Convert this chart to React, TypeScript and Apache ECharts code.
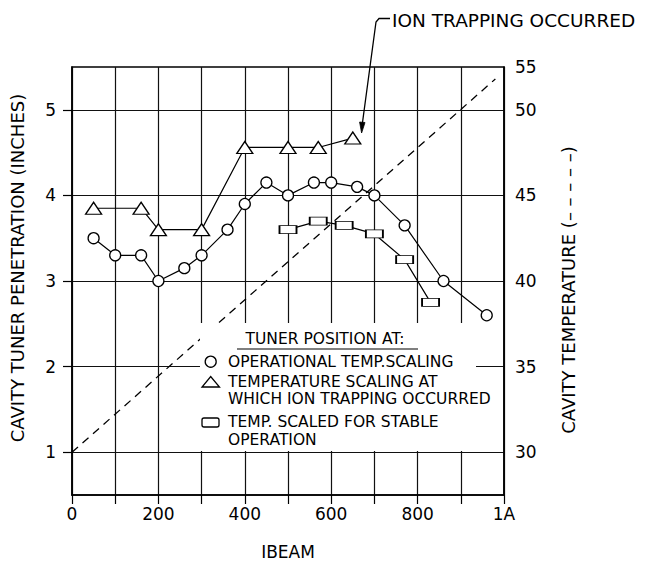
import React, { useEffect, useRef } from "react";
import * as echarts from "echarts";

const FONT = "DejaVu Sans";

// IBEAM (mA) values
const circleX = [50, 100, 160, 200, 260, 300, 360, 400, 450, 500, 560, 600, 660, 700, 770, 860, 960];
const circleY = [3.5, 3.3, 3.3, 3.0, 3.15, 3.3, 3.6, 3.9, 4.15, 4.0, 4.15, 4.15, 4.1, 4.0, 3.65, 3.0, 2.6];

const triX = [50, 160, 200, 300, 400, 500, 570, 650];
const triY = [3.85, 3.85, 3.6, 3.6, 4.56, 4.56, 4.56, 4.67];

const rectX = [500, 570, 630, 700, 770, 830];
const rectY = [3.6, 3.7, 3.65, 3.55, 3.25, 2.75];

const tempX = [0, 980];
const tempY = [30, 51.8];

const leftTicks = [1, 2, 3, 4, 5];
const rightTicks = [30, 35, 40, 45, 50, 52.5];
const xLabelValues = [0, 200, 400, 600, 800, 1000];

const legendTitle = "TUNER POSITION AT:";
const legendItems = [
  ["OPERATIONAL TEMP.SCALING"],
  ["TEMPERATURE SCALING AT", "WHICH ION TRAPPING OCCURRED"],
  ["TEMP. SCALED FOR STABLE", "OPERATION"],
];

const zip = (xs: number[], ys: number[]) => xs.map((x, i) => [x, ys[i]]);

export default function App() {
  const ref = useRef<HTMLDivElement>(null);
  useEffect(() => {
    const chart = echarts.init(ref.current!, null, { renderer: "svg" });
    const black = "#000";
    const txt = (text: string, x: number, y: number, size: number, extra: any = {}) => ({
      type: "text",
      x,
      y,
      z: 20,
      ...extra,
      style: {
        text,
        fill: black,
        fontSize: size,
        fontFamily: FONT,
        align: "left",
        verticalAlign: "middle",
        ...(extra.style || {}),
      },
    });
    chart.setOption({
      animation: false,
      backgroundColor: "#fff",
      grid: {
        left: 72,
        right: 143,
        top: 67,
        bottom: 69,
        show: true,
        borderColor: black,
        borderWidth: 1.5,
        backgroundColor: "transparent",
      },
      xAxis: {
        type: "value",
        min: 0,
        max: 1000,
        interval: 100,
        name: "IBEAM",
        nameLocation: "middle",
        nameGap: 48,
        nameTextStyle: { fontFamily: FONT, fontSize: 17, color: black },
        axisLine: { show: true, lineStyle: { color: black, width: 1.5 } },
        axisTick: { show: true, inside: false, length: 9, lineStyle: { color: black, width: 1.2 } },
        axisLabel: {
          margin: 10,
          fontFamily: FONT,
          fontSize: 17,
          color: black,
          formatter: (v: number) =>
            xLabelValues.includes(v) ? (v === 1000 ? "1A" : String(v)) : "",
        },
        splitLine: { show: true, lineStyle: { color: "#111", width: 1.2 } },
      },
      yAxis: [
        {
          type: "value",
          min: 0.5,
          max: 5.5,
          splitNumber: 5,
          axisLine: { show: true, lineStyle: { color: black, width: 1.5 } },
          axisTick: {
            show: true,
            inside: false,
            length: 9,
            customValues: leftTicks,
            lineStyle: { color: black, width: 1.2 },
          },
          axisLabel: {
            margin: 16,
            fontFamily: FONT,
            fontSize: 17,
            color: black,
            customValues: leftTicks,
            formatter: (v: number) => (leftTicks.includes(v) ? String(v) : ""),
          },
          splitLine: { show: true, lineStyle: { color: "#111", width: 1.2 } },
        },
        {
          type: "value",
          min: 27.5,
          max: 52.5,
          position: "right",
          splitNumber: 5,
          axisLine: { show: true, lineStyle: { color: black, width: 1.5 } },
          axisTick: { show: false },
          axisLabel: {
            margin: 11,
            fontFamily: FONT,
            fontSize: 17,
            color: black,
            customValues: rightTicks,
            formatter: (v: number) =>
              v === 52.5 ? "55" : rightTicks.includes(v) ? String(v) : "",
          },
          splitLine: { show: false },
        },
      ],
      series: [
        {
          type: "line",
          yAxisIndex: 1,
          data: zip(tempX, tempY),
          showSymbol: false,
          symbol: "none",
          lineStyle: { color: black, width: 1.3, type: [8, 6] },
          z: 3,
        },
        {
          type: "line",
          data: zip(circleX, circleY),
          symbol: "circle",
          symbolSize: 11,
          lineStyle: { color: black, width: 1.2 },
          itemStyle: { color: "#fff", borderColor: black, borderWidth: 1.3 },
          z: 4,
        },
        {
          type: "line",
          data: zip(triX, triY),
          symbol: "triangle",
          symbolSize: [16, 12],
          lineStyle: { color: black, width: 1.2 },
          itemStyle: { color: "#fff", borderColor: black, borderWidth: 1.3 },
          z: 4,
        },
        {
          type: "line",
          data: zip(rectX, rectY),
          symbol: "rect",
          symbolSize: [17, 8],
          lineStyle: { color: black, width: 1.2 },
          itemStyle: { color: "#fff", borderColor: black, borderWidth: 1.3 },
          z: 4,
        },
      ],
      graphic: [
        // white-out behind legend
        {
          type: "rect",
          z: 10,
          shape: { x: 200, y: 323, width: 276, height: 128 },
          style: { fill: "#fff" },
        },
        txt(legendTitle, 325, 339, 15.5, { style: { align: "center" } }),
        {
          type: "line",
          z: 20,
          shape: { x1: 237, y1: 349, x2: 418, y2: 349 },
          style: { stroke: black, lineWidth: 1.2 },
        },
        {
          type: "circle",
          z: 20,
          shape: { cx: 210.7, cy: 361.7, r: 5.5 },
          style: { fill: "#fff", stroke: black, lineWidth: 1.3 },
        },
        txt(legendItems[0][0], 228, 361.7, 15.5),
        {
          type: "polygon",
          z: 20,
          shape: { points: [[202, 387], [219.5, 387], [210.7, 376.5]] },
          style: { fill: "#fff", stroke: black, lineWidth: 1.3 },
        },
        txt(legendItems[1][0], 228, 381.5, 15.5),
        txt(legendItems[1][1], 228, 399, 15.5),
        {
          type: "rect",
          z: 20,
          shape: { x: 202, y: 418, width: 17, height: 9, r: 2 },
          style: { fill: "#fff", stroke: black, lineWidth: 1.3 },
        },
        txt(legendItems[2][0], 228, 422, 15.5),
        txt(legendItems[2][1], 228, 439.5, 15.5),
        // annotation
        txt("ION TRAPPING OCCURRED", 392, 20, 18.5),
        {
          type: "polyline",
          z: 20,
          shape: { points: [[390, 18.5], [379, 18.5], [376, 22], [362.3, 124]] },
          style: { stroke: black, lineWidth: 1.3, fill: null },
        },
        {
          type: "polygon",
          z: 20,
          shape: { points: [[361.6, 133], [365, 122.5], [359.6, 122]] },
          style: { fill: black, stroke: black, lineWidth: 0.8 },
        },
        // axis titles
        txt("CAVITY TUNER PENETRATION (INCHES)", 17.5, 268, 18, {
          rotation: Math.PI / 2,
          style: { align: "center" },
        }),
        txt("CAVITY TEMPERATURE (– – – – –)", 568, 290, 18, {
          rotation: Math.PI / 2,
          style: { align: "center" },
        }),
      ],
    });
    return () => chart.dispose();
  }, []);
  return (
    <div
      ref={ref}
      style={{ position: "fixed", left: 0, top: 0, width: 647, height: 565, background: "#fff" }}
    />
  );
}
